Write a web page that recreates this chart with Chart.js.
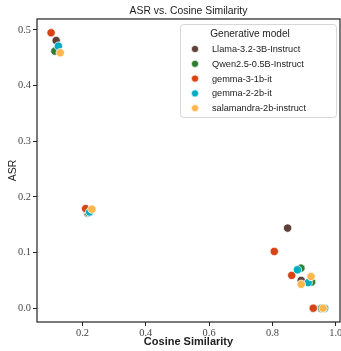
<!DOCTYPE html>
<html>
<head>
<meta charset="utf-8">
<script src="https://cdn.jsdelivr.net/npm/chart.js@4/dist/chart.umd.min.js"></script>
<style>
  html, body { margin: 0; padding: 0; background: #fff; overflow: hidden; }
  #wrap { width: 341px; height: 351px; overflow: hidden; position: relative; }
  canvas { display: block; }
</style>
</head>
<body>
<div id="wrap"><canvas id="c" width="345" height="351"></canvas></div>
<script>
// ---- Data ----
const models = ["Llama-3.2-3B-Instruct", "Qwen2.5-0.5B-Instruct", "gemma-3-1b-it", "gemma-2-2b-it", "salamandra-2b-instruct"];
const colors = ["#5D4037", "#2E7D32", "#D84315", "#00ACC1", "#FFB74D"];

const llamaX = [0.117, 0.216, 0.848, 0.891, 0.955];
const llamaY = [0.481, 0.171, 0.144, 0.050, 0.0];
const qwenX  = [0.113, 0.219, 0.890, 0.924, 0.955];
const qwenY  = [0.462, 0.172, 0.072, 0.047, 0.0];
const gemma3X = [0.101, 0.210, 0.806, 0.861, 0.929];
const gemma3Y = [0.495, 0.179, 0.102, 0.059, 0.0];
const gemma2X = [0.124, 0.223, 0.879, 0.913, 0.965];
const gemma2Y = [0.471, 0.173, 0.069, 0.046, 0.0];
const salaX = [0.130, 0.230, 0.922, 0.891, 0.960];
const salaY = [0.459, 0.178, 0.057, 0.043, 0.0];

const xTicks = [0.2, 0.4, 0.6, 0.8, 1.0];
const xTickLabels = ["0.2", "0.4", "0.6", "0.8", "1.0"];
const yTicks = [0.0, 0.1, 0.2, 0.3, 0.4, 0.5];
const yTickLabels = ["0.0", "0.1", "0.2", "0.3", "0.4", "0.5"];

const titleText = "ASR vs. Cosine Similarity";
const xTitle = "Cosine Similarity";
const yTitle = "ASR";
const legendTitle = "Generative model";

const seriesX = [llamaX, qwenX, gemma3X, gemma2X, salaX];
const seriesY = [llamaY, qwenY, gemma3Y, gemma2Y, salaY];

const datasets = models.map((m, i) => ({
  label: m,
  data: seriesX[i].map((x, j) => ({ x: x, y: seriesY[i][j] })),
  backgroundColor: colors[i],
  borderColor: "#ffffff",
  borderWidth: 0.8,
  pointRadius: 4.2,
  order: models.length - i
}));

const tickFont = { family: "'Liberation Serif', serif", size: 10.4 };
const tickColor = "#444";

const framePlugin = {
  id: "frame",
  beforeDatasetsDraw(chart) {
    const a = chart.chartArea, ctx = chart.ctx;
    ctx.save();
    ctx.strokeStyle = "#222";
    ctx.lineWidth = 1.2;
    ctx.strokeRect(a.left, a.top, a.right - a.left, a.bottom - a.top);
    ctx.restore();
  }
};

const legendPlugin = {
  id: "customLegend",
  afterDraw(chart) {
    const ctx = chart.ctx;
    const bx = 180.5, by = 24.5, bw = 156, bh = 93, r = 3;
    ctx.save();
    ctx.beginPath();
    ctx.moveTo(bx + r, by);
    ctx.arcTo(bx + bw, by, bx + bw, by + bh, r);
    ctx.arcTo(bx + bw, by + bh, bx, by + bh, r);
    ctx.arcTo(bx, by + bh, bx, by, r);
    ctx.arcTo(bx, by, bx + bw, by, r);
    ctx.closePath();
    ctx.fillStyle = "rgba(255,255,255,0.85)";
    ctx.fill();
    ctx.strokeStyle = "#d6d6d6";
    ctx.lineWidth = 1;
    ctx.stroke();

    ctx.fillStyle = "#222";
    ctx.textBaseline = "middle";
    ctx.textAlign = "center";
    ctx.font = "10.1px 'Liberation Sans', sans-serif";
    ctx.fillText(legendTitle, 250, 34);

    ctx.textAlign = "left";
    ctx.font = "9.2px 'Liberation Sans', sans-serif";
    chart.data.datasets.forEach((ds, i) => {
      const cy = 49 + i * 14.8;
      ctx.beginPath();
      ctx.arc(195, cy, 3.6, 0, Math.PI * 2);
      ctx.fillStyle = ds.backgroundColor;
      ctx.fill();
      ctx.strokeStyle = "#fff";
      ctx.lineWidth = 0.7;
      ctx.stroke();
      ctx.fillStyle = "#222";
      ctx.fillText(ds.label, 212, cy + 0.5);
    });
    ctx.restore();
  }
};

new Chart(document.getElementById("c"), {
  type: "scatter",
  data: { datasets: datasets },
  options: {
    responsive: false,
    animation: false,
    layout: { padding: { left: 0, right: 2, top: 0, bottom: 0 } },
    plugins: {
      legend: { display: false },
      tooltip: { enabled: false },
      title: {
        display: true,
        text: titleText,
        fullSize: false,
        color: "#222",
        font: { family: "'Liberation Sans', sans-serif", size: 10.4, weight: "normal" },
        padding: { top: 5, bottom: 1.5 }
      }
    },
    scales: {
      x: {
        type: "linear",
        min: 0.0565,
        max: 1.0135,
        afterBuildTicks: (s) => { s.ticks = xTicks.map(v => ({ value: v })); },
        afterFit: (s) => { s.height = 29; },
        ticks: {
          autoSkip: false, maxRotation: 0, padding: 1,
          font: tickFont, color: tickColor,
          callback: (v, i) => xTickLabels[i]
        },
        grid: { drawOnChartArea: false, drawTicks: true, tickLength: 4, color: "#222", lineWidth: 1 },
        border: { display: false },
        title: {
          display: true, text: xTitle, color: "#222",
          font: { family: "'Liberation Sans', sans-serif", size: 11, weight: "bold" },
          padding: { top: 0, bottom: 2 }
        }
      },
      y: {
        type: "linear",
        min: -0.0248,
        max: 0.5198,
        afterBuildTicks: (s) => { s.ticks = yTicks.map(v => ({ value: v })); },
        afterFit: (s) => { s.width = 37; },
        ticks: {
          autoSkip: false, padding: 2,
          font: tickFont, color: tickColor,
          callback: (v, i) => yTickLabels[i]
        },
        grid: { drawOnChartArea: false, drawTicks: true, tickLength: 4, color: "#222", lineWidth: 1 },
        border: { display: false },
        title: {
          display: true, text: yTitle, color: "#222",
          font: { family: "'Liberation Sans', sans-serif", size: 10.5, weight: "normal" },
          padding: { top: 7, bottom: 0 }
        }
      }
    }
  },
  plugins: [framePlugin, legendPlugin]
});
</script>
</body>
</html>
